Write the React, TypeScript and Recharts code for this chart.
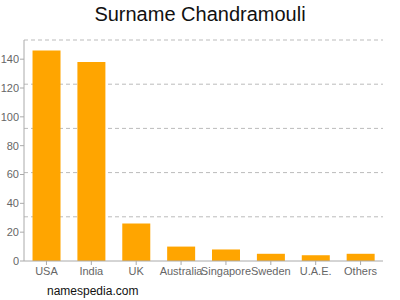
import React from "react";
import {Bar, BarChart, CartesianGrid, XAxis, YAxis} from "recharts";

const countries = ["USA", "India", "UK", "Australia", "Singapore", "Sweden", "U.A.E.", "Others"];
const counts = [146, 138, 26, 10, 8, 5, 4, 5];
const yTicks = [0, 20, 40, 60, 80, 100, 120, 140];

const data = countries.map((name, i) => ({name, value: counts[i]}));

const FONT = "'Liberation Sans', Arial, sans-serif";
const W = 400;
const H = 300;
const MARGIN = {top: 40, right: 17, bottom: 19, left: 0};
const X_AXIS_H = 20;

// grid lines split the plot into five equal bands, not on the ticks
const plotH = H - MARGIN.top - MARGIN.bottom - X_AXIS_H;
const gridPoints = [0, 1, 2, 3, 4].map((i) => MARGIN.top + (plotH * i) / 5);

export default function App() {
  return (
    <div style={{position: "absolute", left: 0, top: 0, width: W, height: H, background: "#fff", fontFamily: FONT}}>
      <div style={{position: "absolute", top: 3, width: W, textAlign: "center", fontSize: 20, color: "#111"}}>
        Surname Chandramouli
      </div>
      <BarChart width={W} height={H} data={data} margin={MARGIN} barCategoryGap="19%">
        <CartesianGrid vertical={false} stroke="#bbb" strokeDasharray="4 3" horizontalPoints={gridPoints}/>
        <XAxis
          dataKey="name"
          interval={0}
          height={X_AXIS_H}
          stroke="#aaa"
          tickSize={4}
          tick={{fill: "#666", fontSize: 11, fontFamily: FONT}}
        />
        <YAxis
          width={24}
          domain={[0, (max: number) => max * 1.05]}
          ticks={yTicks}
          stroke="#aaa"
          tickSize={4}
          tickMargin={1}
          tick={{fill: "#666", fontSize: 11, fontFamily: FONT}}
        />
        <Bar dataKey="value" fill="#FFA500" isAnimationActive={false}/>
      </BarChart>
      <div style={{position: "absolute", left: 47, top: 284, fontSize: 12, color: "#111"}}>namespedia.com</div>
    </div>
  );
}
